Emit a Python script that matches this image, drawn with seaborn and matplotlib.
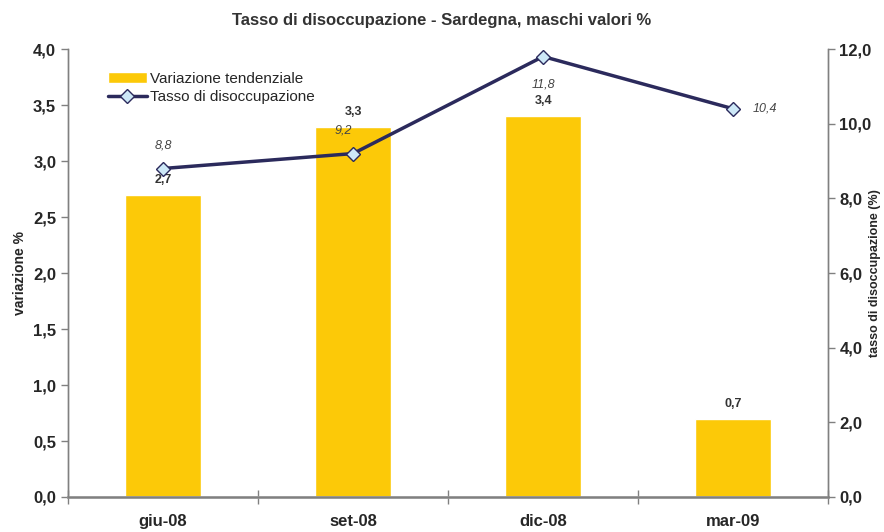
import numpy as np
import pandas as pd
import seaborn as sns
import matplotlib
matplotlib.use("Agg")
import matplotlib.pyplot as plt
from matplotlib.ticker import FixedLocator, FuncFormatter

# Data
periods = ["giu-08", "set-08", "dic-08", "mar-09"]
variazione = [2.7, 3.3, 3.4, 0.7]
tasso = [8.8, 9.2, 11.8, 10.4]

df = pd.DataFrame({"periodo": periods, "variazione": variazione, "tasso": tasso})

sns.set_style("white")
plt.rcParams['font.family'] = ['Liberation Sans', 'DejaVu Sans']

fig = plt.figure(figsize=(8.84, 5.32), dpi=100)
ax = fig.add_axes([0.0769, 0.0658, 0.86, 0.842])

bar_color = "#fcc908"
line_color = "#2b2a5c"

sns.barplot(data=df, x="periodo", y="variazione", color=bar_color, width=0.4,
            saturation=1, ax=ax, label="Variazione tendenziale")
ax.set_xlim(-0.5, 3.5)
ax.set_ylim(0, 4.0)
ax.set_yticks(np.arange(0, 4.01, 0.5))
comma = FuncFormatter(lambda v, p: f"{v:.1f}".replace(".", ","))
ax.yaxis.set_major_formatter(comma)

ax2 = ax.twinx()
sns.lineplot(data=df, x="periodo", y="tasso", color=line_color, linewidth=2.5,
             marker="D", markersize=7, markerfacecolor="#cde8f7",
             markeredgecolor=line_color, markeredgewidth=1, ax=ax2,
             label="Tasso di disoccupazione")
ax2.set_ylim(0, 12.0)
ax2.set_yticks(np.arange(0, 12.01, 2))
ax2.yaxis.set_major_formatter(comma)
ax2.set_xlim(-0.5, 3.5)

# bar labels
for i, v in enumerate(variazione):
    ax.text(i, v + 0.08, f"{v:.1f}".replace(".", ","), ha="center", va="bottom",
            fontsize=9, fontweight="bold", color="#333333")

# line labels
offsets = [(0, 0.45, "center", "bottom"), (-0.05, 0.45, "center", "bottom"),
           (0, -0.6, "center", "top"), (0.1, 0, "left", "center")]
for i, v in enumerate(tasso):
    dx, dy, ha, va = offsets[i]
    ax2.text(i + dx, v + dy, f"{v:.1f}".replace(".", ","), ha=ha, va=va,
             fontsize=9, fontstyle="italic", color="#444444")

# axes styling
for a in (ax, ax2):
    for s in a.spines.values():
        s.set_color("#808080")
        s.set_linewidth(1)
    a.spines["top"].set_visible(False)
ax.spines["bottom"].set_linewidth(2)
ax.spines["bottom"].set_color("#999999")

ax.tick_params(axis="y", direction="out", length=5, width=1, color="#808080",
               labelsize=12, left=True)
ax2.tick_params(axis="y", direction="out", length=5, width=1, color="#808080",
                labelsize=12, right=True, pad=3)
for lab in ax.get_yticklabels() + ax2.get_yticklabels():
    lab.set_fontweight("bold")

ax.xaxis.set_minor_locator(FixedLocator([-0.5, 0.5, 1.5, 2.5, 3.5]))
ax.tick_params(axis="x", which="major", length=0, labelsize=12, pad=12)
ax.tick_params(axis="x", which="minor", direction="inout", length=10, width=1,
               color="#808080", bottom=True)
for lab in ax.get_xticklabels():
    lab.set_fontweight("bold")

ax.set_xlabel("")
ax.set_ylabel("variazione %", fontsize=10, fontweight="bold", labelpad=4)
ax2.set_ylabel("tasso di disoccupazione (%)", fontsize=9, fontweight="bold")
ax2.yaxis.set_label_coords(1.054, 0.5)
ax2.set_xlabel("")

fig.suptitle("Tasso di disoccupazione - Sardegna, maschi valori %", fontsize=12,
             fontweight="bold", color="#333333", y=0.975)

# combined legend
h1, l1 = ax.get_legend_handles_labels()
h2, l2 = ax2.get_legend_handles_labels()
if ax2.get_legend():
    ax2.get_legend().remove()
if ax.get_legend():
    ax.get_legend().remove()
leg = ax2.legend(h1 + h2, l1 + l2, loc="upper left", bbox_to_anchor=(0.035, 0.98),
                 frameon=False, fontsize=11, handlelength=2.5, handletextpad=0.2,
                 labelspacing=0.3)

fig.savefig("out.png", dpi=100)
